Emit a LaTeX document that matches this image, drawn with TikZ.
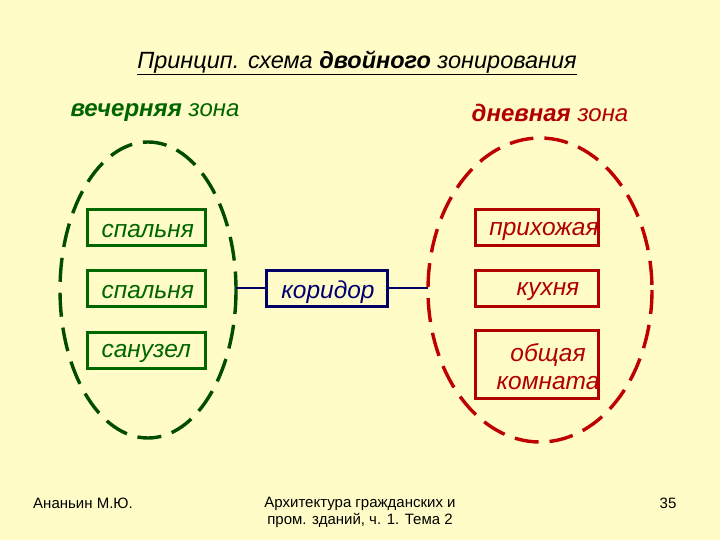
\documentclass[tikz,border=0pt]{standalone}
\usepackage{fontspec}
\setmainfont{Liberation Sans}
\begin{document}
\begin{tikzpicture}[x=1pt,y=-1pt,
  grn/.style={draw=green!40!black,line width=3pt},
  red/.style={draw=red!70!black,line width=3pt},
  zone/.style={dash pattern=on 24pt off 11pt,line width=3.4pt},
  txt/.style={font=\itshape\fontsize{24.5}{28}\selectfont,yshift=-3pt}]
\fill[yellow!22] (0,0) rectangle (720,540);
\useasboundingbox (0,0) rectangle (720,540);
\node[font=\itshape\fontsize{23.5}{26}\selectfont] (title) at (357,63) {\underline{Принцип. схема \textbf{двойного} зонирования}};
\node[font=\itshape\fontsize{24}{27}\selectfont,text=green!40!black] (lz) at (155,113) {\textbf{вечерняя} зона};
\node[font=\itshape\fontsize{24}{27}\selectfont,text=red!70!black] (rz) at (550,113) {\textbf{дневная} зона};
\draw[zone,draw=green!30!black] (148,290) ellipse [x radius=88,y radius=148];
\draw[zone,draw=red!75!black] (540,290) ellipse [x radius=112,y radius=152];
\coordinate (le) at (236,288);
\coordinate (re) at (428,288);
\draw[grn] (87,210) rectangle (205,245);
\draw[grn] (87,270) rectangle (205,306);
\draw[grn] (87,332) rectangle (205,368);
\draw[red] (475,210) rectangle (598,245);
\draw[red] (475,270) rectangle (598,306);
\draw[red] (475,330) rectangle (598,398);
\draw[draw=blue!40!black,line width=3pt] (266,270) rectangle (387,306);
\node[txt,text=green!40!black,anchor=west] (b1) at (98,228) {спальня};
\node[txt,text=green!40!black,anchor=west] (b2) at (98,289) {спальня};
\node[txt,text=green!40!black,anchor=west] (b3) at (98,350) {санузел};
\node[txt,text=red!70!black] (r1) at (544,228) {прихожая};
\node[txt,text=red!70!black] (r2) at (548,289) {кухня};
\node[txt,text=red!70!black,align=center] (r3) at (548,364) {общая\\[0pt]комната};
\node[txt,text=blue!45!black] (c) at (328,289) {коридор};
\draw[blue!40!black,line width=2.5pt] (le) -- (266,288);
\draw[blue!40!black,line width=2.5pt] (387,288) -- (re);
\begin{scope}[font=\fontsize{15}{17}\selectfont]
\node (f1) at (83,503) {Ананьин М.Ю.};
\node[align=center] (f2) at (360,512) {Архитектура гражданских и\\пром. зданий, ч. 1. Тема 2};
\node (f3) at (668,503) {35};
\end{scope}
\end{tikzpicture}
\end{document}
